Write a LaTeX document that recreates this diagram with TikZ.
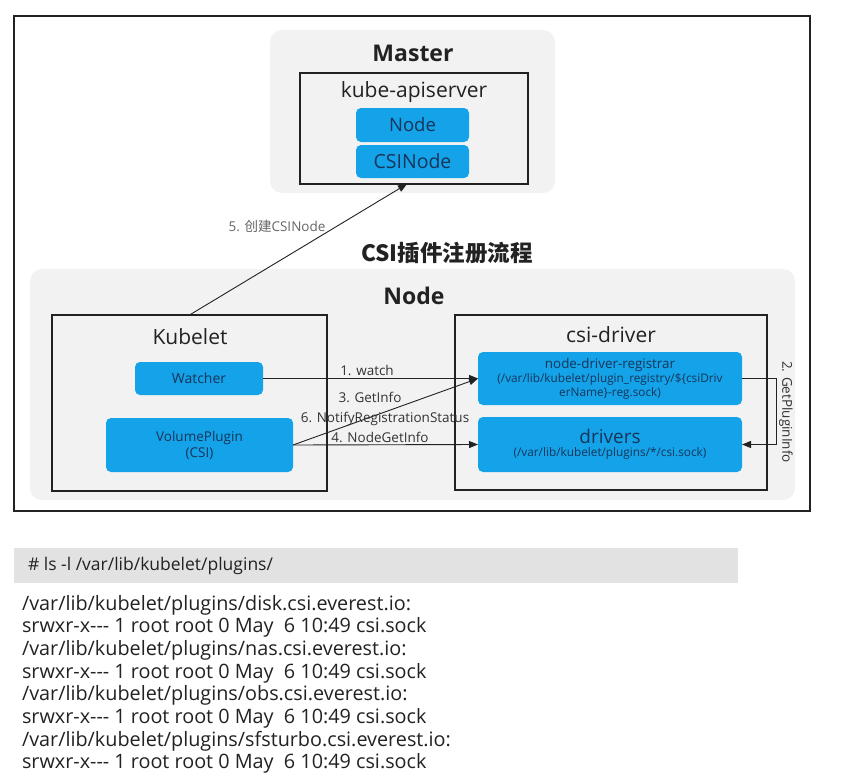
\documentclass[tikz,border=0pt]{standalone}
\usepackage{fontspec}
\setmainfont{Open Sans}
\newfontfamily\cjk{Noto Sans CJK SC}
\usetikzlibrary{arrows.meta}
\definecolor{regiongray}{HTML}{F2F2F2}
\definecolor{boxblue}{HTML}{14A2E8}
\definecolor{navy}{HTML}{17355A}
\definecolor{cmdgray}{HTML}{E2E2E2}
\definecolor{ink}{HTML}{222222}
\definecolor{labelgray}{HTML}{333333}
\begin{document}
\begin{tikzpicture}[x=1pt,y=-1pt,
  every node/.style={inner sep=0pt, outer sep=0pt},
  frame/.style={draw=ink, line width=1.5pt, anchor=north west},
  region/.style={fill=regiongray, rounded corners=12pt, anchor=north west},
  bluebox/.style={fill=boxblue, rounded corners=5pt, anchor=north west},
  head/.style={font=\bfseries\fontsize{23}{27}\selectfont, text=ink},
  comp/.style={font=\fontsize{21}{25}\selectfont, text=ink},
  inbox/.style={text=navy, align=center},
  arrlabel/.style={font=\fontsize{13.5}{16}\selectfont, text=labelgray},
  arr/.style={draw=ink, line width=0.9pt, -{Triangle[length=9pt,width=7pt]}}
]
\useasboundingbox[fill=white] (0,0) rectangle (846,784);

% outer frame and grey regions
\node[frame, minimum width=796pt, minimum height=495pt] (outer) at (14,16) {};
\node[region, minimum width=285pt, minimum height=163pt] (mregion) at (270,30) {};
\node[region, minimum width=765pt, minimum height=231pt] (nregion) at (30,269) {};

% Master
\node[head] (mtitle) at (413,53) {Master};
\node[frame, minimum width=228pt, minimum height=111pt] (api) at (300,73) {};
\node[comp] (apititle) at (414,92) {kube-apiserver};
\node[bluebox, minimum width=113pt, minimum height=34pt] (nodeobj) at (356,108) {};
\node[inbox, font=\fontsize{18.5}{22}\selectfont] (nodeobjt) at (nodeobj.center) {Node};
\node[bluebox, minimum width=113pt, minimum height=33pt] (csinode) at (356,145) {};
\node[inbox, font=\fontsize{19.5}{22}\selectfont] (csinodet) at (csinode.center) {CSINode};

% titles
\node[font=\cjk\bfseries\fontsize{22.5}{26}\selectfont, text=ink] (ttl) at (447,253) {CSI插件注册流程};
\node[head] (ntitle) at (414,296) {Node};

% Kubelet
\node[frame, minimum width=275pt, minimum height=176pt] (kubelet) at (52,315) {};
\node[comp] (kubelett) at (190,337) {Kubelet};
\node[bluebox, minimum width=128pt, minimum height=33pt] (watcher) at (135,362) {};
\node[inbox, font=\fontsize{14}{16}\selectfont] (watchert) at (watcher.center) {Watcher};
\node[bluebox, minimum width=187pt, minimum height=54pt] (vp) at (106,418) {};
\node[inbox, font=\fontsize{13.5}{16}\selectfont] (vpt) at (vp.center) {VolumePlugin\\(CSI)};

% csi-driver
\node[frame, minimum width=312pt, minimum height=175pt] (driver) at (455,315) {};
\node[comp] (drivert) at (611,335) {csi-driver};
\node[bluebox, minimum width=264pt, minimum height=53pt] (reg) at (478,352) {};
\node[inbox, font=\fontsize{11.8}{14}\selectfont] (regt) at (reg.center)
  {{\fontsize{13.4}{15}\selectfont node-driver-registrar}\\(/var/lib/kubelet/plugin\_registry/\$\{csiDriv\\erName\}-reg.sock)};
\node[bluebox, minimum width=264pt, minimum height=55pt] (drv) at (478,417) {};
\node[inbox, font=\fontsize{11.8}{13}\selectfont] (drvt) at (drv.center)
  {{\fontsize{19}{22}\selectfont drivers}\\(/var/lib/kubelet/plugins/*/csi.sock)};

% connectors
\draw[arr] (watcher.east) -- (watcher.east -| reg.west);
\draw[arr] (vp.east) -- (reg.west);
\draw[arr] (vp.east) -- (drv.west);
\draw[arr] (reg.east) -- ++(34,0) |- (drv.east);
\draw[arr] (kubelet.north) -- ([xshift=-7pt]api.south);

% connector labels
\node[arrlabel] (l1) at (367,370) {1. watch};
\node[arrlabel] (l3) at (370,397) {3. GetInfo};
\node[arrlabel] (l6) at (385,419) {6. NotifyRegistrationStatus};
\node[arrlabel] (l4) at (380,437) {4. NodeGetInfo};
\node[arrlabel, rotate=-90] (l2) at (786,412) {2. GetPluginInfo};
\node[font=\fontsize{13.5}{16}\selectfont, text=black!60] (l5) at (277,226) {5. {\cjk 创建}CSINode};

% command and listing
\node[fill=cmdgray, anchor=north west, minimum width=724pt, minimum height=35pt] (cmd) at (14,548) {};
\node[anchor=west, font=\fontsize{17.5}{20}\selectfont, text=ink] (cmdt) at (28,566) {\# ls -l /var/lib/kubelet/plugins/};
\node[anchor=north west, align=left, font=\fontsize{19.8}{22.7}\selectfont, text=ink] (listing) at (22,595) {%
/var/lib/kubelet/plugins/disk.csi.everest.io:\\
srwxr-x-{}-{}- 1 root root 0 May~~6 10:49 csi.sock\\
/var/lib/kubelet/plugins/nas.csi.everest.io:\\
srwxr-x-{}-{}- 1 root root 0 May~~6 10:49 csi.sock\\
/var/lib/kubelet/plugins/obs.csi.everest.io:\\
srwxr-x-{}-{}- 1 root root 0 May~~6 10:49 csi.sock\\
/var/lib/kubelet/plugins/sfsturbo.csi.everest.io:\\
srwxr-x-{}-{}- 1 root root 0 May~~6 10:49 csi.sock};
\end{tikzpicture}
\end{document}
